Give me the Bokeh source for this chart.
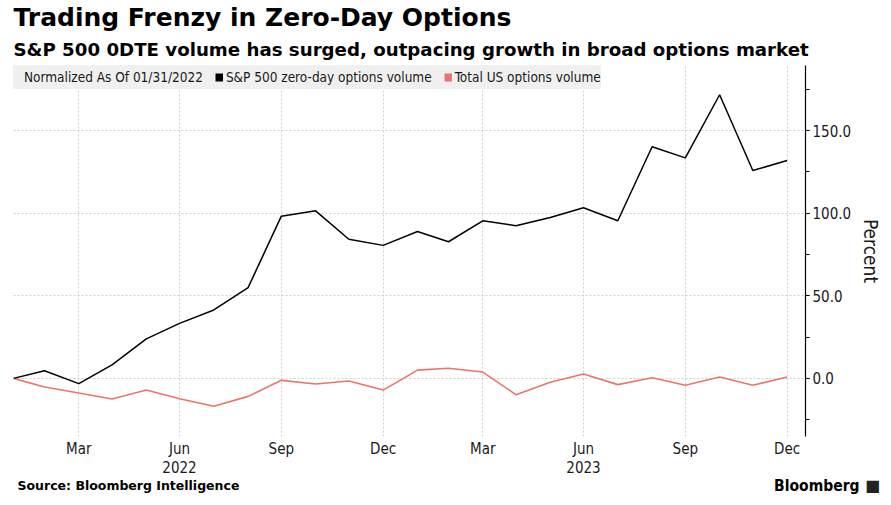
import pandas as pd
from bokeh.plotting import figure
from bokeh.layouts import column
from bokeh.models import (Range1d, DatetimeAxis, FixedTicker, SingleIntervalTicker,
                          NumeralTickFormatter, DatetimeTickFormatter, Legend, LegendItem,
                          Title, Label)
from bokeh.embed import file_html
from bokeh.resources import INLINE

# ---------------- data ----------------
months = ["2022-01-31", "2022-02-28", "2022-03-31", "2022-04-30", "2022-05-31", "2022-06-30",
          "2022-07-31", "2022-08-31", "2022-09-30", "2022-10-31", "2022-11-30", "2022-12-31",
          "2023-01-31", "2023-02-28", "2023-03-31", "2023-04-30", "2023-05-31", "2023-06-30",
          "2023-07-31", "2023-08-31", "2023-09-30", "2023-10-31", "2023-11-30", "2023-12-31"]
spx_0dte = [0.0, 4.6, -3.2, 8.2, 23.9, 33.3, 41.4, 55.0, 98.2, 101.4, 84.2, 80.5,
            88.9, 82.7, 95.4, 92.4, 97.4, 103.3, 95.4, 140.2, 133.5, 171.7, 125.8, 131.9]
total_us = [0.0, -5.2, -8.9, -12.5, -7.1, -12.3, -16.9, -10.9, -1.2, -3.4, -1.6, -7.1,
            5.0, 6.1, 3.8, -9.9, -2.4, 2.6, -3.8, 0.4, -4.2, 0.8, -4.2, 0.8]
month_ticks = ["2022-03-31", "2022-06-30", "2022-09-30", "2022-12-31",
               "2023-03-31", "2023-06-30", "2023-09-30", "2023-12-31"]
year_ticks = ["2022-06-30", "2023-06-30"]
series_names = ["S&P 500 zero-day options volume", "Total US options volume"]
legend_title = "Normalized As Of 01/31/2022"
y_interval = 50
y_limits = [-35.2, 189.4]

dates = pd.to_datetime(months)


def to_ms(lst):
    return [pd.Timestamp(d).timestamp() * 1000.0 for d in lst]


COND = "'DejaVu Sans Condensed', 'DejaVu Sans'"
BOLD = "'DejaVu Sans'"
RED = "#e8766e"
TXT = "#1a1a1a"

p = figure(frame_width=792, frame_height=371, x_axis_type="datetime", y_axis_location="right",
           x_range=Range1d(dates[0], dates[-1] + pd.Timedelta(days=16.6)),
           y_range=Range1d(*y_limits),
           output_backend="svg", toolbar_location=None,
           min_border_left=13, min_border_right=5, min_border_top=64, min_border_bottom=0,
           background_fill_color="white", border_fill_color="white")
p.outline_line_color = None

# lines
p.line(dates, total_us, color=RED, line_width=1.6)
p.line(dates, spx_0dte, color="black", line_width=1.5)

# legend swatches (thick butt-capped lines, only shown in the legend)
sw_none = p.line(dates, spx_0dte, line_alpha=0, line_width=8, visible=False)
sw_black = p.line(dates, spx_0dte, color="black", line_width=8, line_cap="butt", visible=False)
sw_red = p.line(dates, total_us, color=RED, line_width=8, line_cap="butt", visible=False)

# x axis (months)
mt = FixedTicker(ticks=to_ms(month_ticks), minor_ticks=[])
xa = p.xaxis[0]
xa.ticker = mt
xa.formatter = DatetimeTickFormatter(days="%b", months="%b", years="%b")
xa.axis_line_color = None
xa.major_tick_line_color = None
xa.minor_tick_line_color = None
xa.major_tick_out = 0
xa.major_tick_in = 0
xa.minor_tick_out = 0
xa.minor_tick_in = 0
xa.major_label_text_font = COND
xa.major_label_text_font_size = "15px"
xa.major_label_text_color = TXT
xa.major_label_standoff = 3
p.xgrid.ticker = mt

# year axis
ya2 = DatetimeAxis(ticker=FixedTicker(ticks=to_ms(year_ticks), minor_ticks=[]),
                   formatter=DatetimeTickFormatter(days="%Y", months="%Y", years="%Y"),
                   axis_line_color=None, major_tick_line_color=None, minor_tick_line_color=None,
                   major_tick_out=0, major_tick_in=0, minor_tick_out=0, minor_tick_in=0,
                   major_label_text_font=COND, major_label_text_font_size="15px",
                   major_label_text_color=TXT, major_label_standoff=0)
p.add_layout(ya2, "below")

# y axis (right)
yt = SingleIntervalTicker(interval=y_interval, num_minor_ticks=2)
ya = p.yaxis[0]
ya.ticker = yt
ya.formatter = NumeralTickFormatter(format="0.0")
ya.axis_line_color = "black"
ya.axis_line_width = 1.2
ya.major_tick_in = 0
ya.major_tick_out = 4
ya.minor_tick_in = 0
ya.minor_tick_out = 4
ya.major_tick_line_color = "black"
ya.minor_tick_line_color = "black"
ya.major_label_text_font = COND
ya.major_label_text_font_size = "15px"
ya.major_label_text_color = TXT
ya.major_label_standoff = 3
ya.axis_label = "Percent"
ya.axis_label_text_font = COND
ya.axis_label_text_font_size = "19px"
ya.axis_label_text_font_style = "normal"
ya.axis_label_text_color = TXT
ya.axis_label_standoff = 6
p.ygrid.ticker = yt

for g in (p.xgrid, p.ygrid):
    g.grid_line_color = "#cfcfcf"
    g.grid_line_dash = "2 2"
    g.grid_line_width = 1

# legend
legend = Legend(items=[LegendItem(label=legend_title, renderers=[sw_none]),
                       LegendItem(label=series_names[0], renderers=[sw_black]),
                       LegendItem(label=series_names[1], renderers=[sw_red])],
                orientation="horizontal", location="top_left", margin=0, padding=2,
                spacing=12, label_standoff=3, glyph_width=8, glyph_height=24, label_height=24,
                label_text_font=COND, label_text_font_size="13.5px", label_text_color=TXT,
                border_line_color=None, background_fill_color="#f0f0f0", background_fill_alpha=1)
p.add_layout(legend, "center")

# titles
p.add_layout(Title(text="S&P 500 0DTE volume has surged, outpacing growth in broad options market",
                   text_font=BOLD, text_font_size="18.2px", text_font_style="bold",
                   text_color="black", align="left", standoff=11), "above")
p.add_layout(Title(text="Trading Frenzy in Zero-Day Options",
                   text_font=BOLD, text_font_size="25px", text_font_style="bold",
                   text_color="black", align="left", standoff=0), "above")

# footer
footer = figure(width=891, height=31, output_backend="svg", toolbar_location=None,
                x_range=Range1d(0, 1), y_range=Range1d(0, 1), min_border=0,
                background_fill_color="white", border_fill_color="white")
footer.axis.visible = False
footer.grid.visible = False
footer.outline_line_color = None
for fig in (p, footer):
    if "frame_align" in fig.properties():
        fig.frame_align = False
footer.add_layout(Label(x=17, y=21, x_units="screen", y_units="screen",
                        text="Source: Bloomberg Intelligence", text_font=BOLD,
                        text_font_size="12.5px", text_font_style="bold", text_color="black",
                        text_baseline="middle"))
footer.add_layout(Label(x=859, y=21, x_units="screen", y_units="screen", text="Bloomberg",
                        text_font=COND, text_font_size="15.5px", text_font_style="bold",
                        text_color="black", text_align="right", text_baseline="middle"))
footer.add_layout(Label(x=872, y=21, x_units="screen", y_units="screen", text="\u25A0",
                        text_font=BOLD, text_font_size="16px", text_color="#222222",
                        text_align="center", text_baseline="middle"))

open("out.html", "w").write(file_html(column(p, footer, spacing=0), INLINE))
